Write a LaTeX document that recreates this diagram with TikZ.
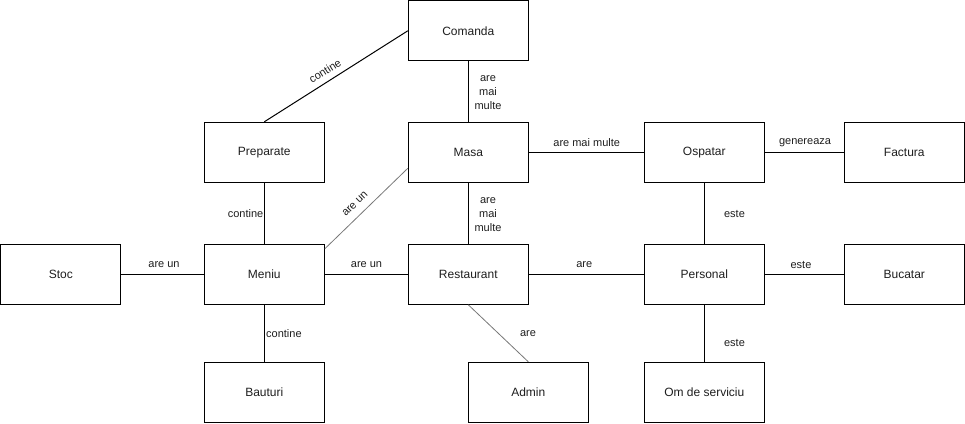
\documentclass[tikz,border=0pt]{standalone}
\usepackage{fontspec}
\setmainfont{Liberation Sans}
\definecolor{lgray}{RGB}{120,120,120}
\definecolor{txt}{RGB}{30,30,30}
\begin{document}
\begin{tikzpicture}[x=1pt,y=-1pt,
  box/.style={draw, line width=1pt, minimum width=120pt, minimum height=60pt, inner sep=0pt, text=txt, font=\fontsize{12}{14}\selectfont},
  lbl/.style={font=\fontsize{11}{14}\selectfont, inner sep=0pt, align=center, text=txt},
  conn/.style={line width=1pt},
  gconn/.style={line width=0.8pt, draw=lgray}]
\useasboundingbox (0,0) rectangle (965,423);
% boxes
\node[box] (comanda) at (468.3,30.8) {Comanda};
\node[box] (preparate) at (264.3,152.3) {Preparate};
\node[box] (masa) at (468.3,152.3) {Masa};
\node[box] (ospatar) at (704.3,152.3) {Ospatar};
\node[box] (factura) at (904.3,152.3) {Factura};
\node[box] (stoc) at (60.8,274.3) {Stoc};
\node[box] (meniu) at (264.3,274.3) {Meniu};
\node[box] (restaurant) at (468.3,274.3) {Restaurant};
\node[box] (personal) at (704.3,274.3) {Personal};
\node[box] (bucatar) at (904.3,274.3) {Bucatar};
\node[box] (bauturi) at (264.3,392.3) {Bauturi};
\node[box] (admin) at (528.3,392.3) {Admin};
\node[box] (om) at (704.3,392.3) {Om de serviciu};
% connectors
\draw[conn] (comanda.west) -- (preparate.north);
\draw[conn] (comanda) -- (masa);
\draw[conn] (masa) -- (restaurant);
\draw[conn] (masa) -- (ospatar);
\draw[conn] (ospatar) -- (factura);
\draw[conn] (ospatar) -- (personal);
\draw[conn] (preparate) -- (meniu);
\draw[conn] (stoc) -- (meniu);
\draw[conn] (meniu) -- (restaurant);
\draw[conn] (meniu) -- (bauturi);
\draw[conn] (restaurant) -- (personal);
\draw[conn] (personal) -- (bucatar);
\draw[conn] (personal) -- (om);
\draw[gconn] ([yshift=-16pt]masa.west) -- ([yshift=-5pt]meniu.north east);
\draw[gconn] (restaurant.south) -- (admin.north);
% labels
\node[lbl, rotate=32.5] (l1) at (325,71) {contine};
\node[lbl] (l2) at (488,92.7) {are\\mai\\multe};
\node[lbl] (l3) at (488,214.3) {are\\mai\\multe};
\node[lbl] (l4) at (586.7,143) {are mai multe};
\node[lbl] (l5) at (805,143) {genereaza};
\node[lbl, anchor=east] (l6) at (263.5,214) {contine};
\node[lbl, rotate=44.3] (l7) at (355,204) {are un};
\node[lbl] (l8) at (164,265) {are un};
\node[lbl] (l9) at (366.5,265) {are un};
\node[lbl] (l10) at (584.3,265) {are};
\node[lbl] (l11) at (734.5,214) {este};
\node[lbl] (l12) at (801,265) {este};
\node[lbl] (l13) at (734.5,342.7) {este};
\node[lbl, anchor=west] (l14) at (266,334) {contine};
\node[lbl] (l15) at (528,334) {are};
\end{tikzpicture}
\end{document}
